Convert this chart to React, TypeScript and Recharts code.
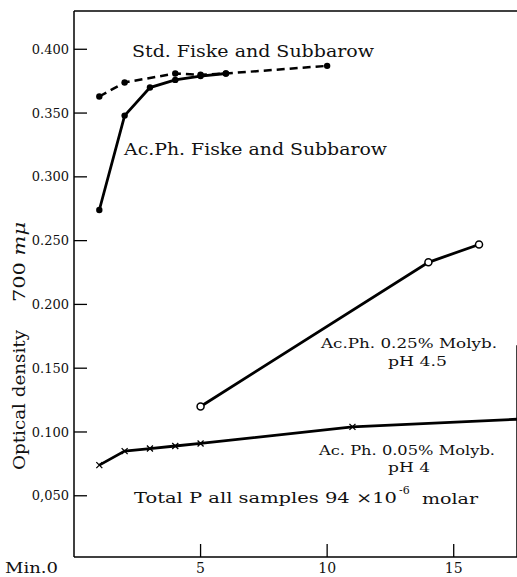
import React from 'react';
import { LineChart, XAxis, YAxis, Line, ReferenceLine } from 'recharts';

// minutes / optical density
const stdTimes = [1, 2, 4, 5, 6, 10];
const stdOD = [0.363, 0.374, 0.381, 0.380, 0.381, 0.387];

const fiskeTimes = [1, 2, 3, 4, 5, 6];
const fiskeOD = [0.274, 0.348, 0.370, 0.376, 0.379, 0.381];

const molyb25Times = [5, 14, 16];
const molyb25OD = [0.120, 0.233, 0.247];

const molyb05Times = [1, 2, 3, 4, 5, 11, 17.5];
const molyb05OD = [0.074, 0.085, 0.087, 0.089, 0.091, 0.104, 0.110];

const xTicks = [0, 5, 10, 15];
const yTicks = [0.05, 0.1, 0.15, 0.2, 0.25, 0.3, 0.35, 0.4];
const yTickLabels = ['0,050', '0.100', '0.150', '0.200', '0.250', '0.300', '0.350', '0.400'];

const toRows = (t: number[], v: number[]) => t.map((x, i) => ({ t: x, od: v[i] }));

const FONT = '"DejaVu Serif", serif';

const YTick = (props: any) => {
  const { x, y, payload } = props;
  const i = yTicks.indexOf(payload.value);
  return (
    <g>
      <line x1={x} y1={y} x2={x + 13} y2={y} stroke="#000" strokeWidth={1.3} />
      <text x={x - 5} y={y} dy="0.35em" textAnchor="end" fontSize={13} fontFamily={FONT} fill="#111">
        {i >= 0 ? yTickLabels[i] : ''}
      </text>
    </g>
  );
};

const XTick = (props: any) => {
  const { x, y, payload } = props;
  if (payload.value === 0) {
    return (
      <text
        x={x - 69}
        y={y + 16}
        fontSize={14}
        textLength={53}
        lengthAdjust="spacingAndGlyphs"
        fontFamily={FONT}
        fill="#111"
      >
        Min.0
      </text>
    );
  }
  return (
    <g>
      <line x1={x} y1={y} x2={x} y2={y - 13} stroke="#000" strokeWidth={1.3} />
      <text x={x} y={y + 16} textAnchor="middle" fontSize={14} fontFamily={FONT} fill="#111">
        {payload.value}
      </text>
    </g>
  );
};

const CrossDot = (props: any) => {
  const { cx, cy, index } = props;
  if (index === molyb05Times.length - 1 || cx == null) return <g key={`c${index}`} />;
  const s = 3;
  return (
    <path
      key={`c${index}`}
      d={`M${cx - s},${cy - s}L${cx + s},${cy + s}M${cx - s},${cy + s}L${cx + s},${cy - s}`}
      stroke="#000"
      strokeWidth={1.3}
    />
  );
};

const txt = { fontFamily: FONT, fill: '#111' } as const;

export default function App() {
  return (
    <div style={{ position: 'absolute', left: 0, top: 0, width: 517, height: 577, background: '#fff' }}>
      <LineChart width={517} height={577} margin={{ top: 11, right: 0, bottom: 0, left: 0 }}>
        <XAxis
          dataKey="t"
          type="number"
          domain={[0, 17.5]}
          ticks={xTicks}
          allowDataOverflow
          height={20}
          tickLine={false}
          tickSize={0}
          tickMargin={0}
          tick={<XTick />}
          axisLine={{ stroke: '#000', strokeWidth: 1.5 }}
        />
        <YAxis
          type="number"
          domain={[0.002, 0.43]}
          ticks={yTicks}
          allowDataOverflow
          width={74}
          tickLine={false}
          tickSize={0}
          tickMargin={0}
          tick={<YTick />}
          axisLine={{ stroke: '#000', strokeWidth: 1.5 }}
        />
        <ReferenceLine y={0.43} stroke="#000" strokeWidth={1.3} />
        <ReferenceLine
          segment={[{ x: 17.5, y: 0.002 }, { x: 17.5, y: 0.168 }]}
          stroke="#000"
          strokeWidth={1.5}
        />
        <Line
          data={toRows(stdTimes, stdOD)}
          dataKey="od"
          type="linear"
          stroke="#000"
          strokeWidth={2.5}
          strokeDasharray="8 5"
          dot={{ r: 3.2, fill: '#000', stroke: '#000', strokeWidth: 0 }}
          isAnimationActive={false}
        />
        <Line
          data={toRows(fiskeTimes, fiskeOD)}
          dataKey="od"
          type="linear"
          stroke="#000"
          strokeWidth={2.8}
          dot={{ r: 3.2, fill: '#000', stroke: '#000', strokeWidth: 0 }}
          isAnimationActive={false}
        />
        <Line
          data={toRows(molyb25Times, molyb25OD)}
          dataKey="od"
          type="linear"
          stroke="#000"
          strokeWidth={2.8}
          dot={{ r: 3.5, fill: '#fff', stroke: '#000', strokeWidth: 1.5, strokeDasharray: '' }}
          isAnimationActive={false}
        />
        <Line
          data={toRows(molyb05Times, molyb05OD)}
          dataKey="od"
          type="linear"
          stroke="#000"
          strokeWidth={2.8}
          dot={<CrossDot />}
          isAnimationActive={false}
        />
      </LineChart>
      <svg
        width={517}
        height={577}
        style={{ position: 'absolute', left: 0, top: 0, pointerEvents: 'none' }}
      >
        <text x={132} y={57} fontSize={16} textLength={242} lengthAdjust="spacingAndGlyphs" {...txt}>
          Std. Fiske and Subbarow
        </text>
        <text x={124} y={155} fontSize={16} textLength={263} lengthAdjust="spacingAndGlyphs" {...txt}>
          Ac.Ph. Fiske and Subbarow
        </text>
        <text x={321} y={348} fontSize={13.5} textLength={176} lengthAdjust="spacingAndGlyphs" {...txt}>
          Ac.Ph. 0.25% Molyb.
        </text>
        <text x={388} y={366} fontSize={13.5} textLength={59} lengthAdjust="spacingAndGlyphs" {...txt}>
          pH 4.5
        </text>
        <text x={319} y={455} fontSize={13.5} textLength={176} lengthAdjust="spacingAndGlyphs" {...txt}>
          Ac. Ph. 0.05% Molyb.
        </text>
        <text x={388} y={472} fontSize={13.5} textLength={42} lengthAdjust="spacingAndGlyphs" {...txt}>
          pH 4
        </text>
        <text x={134} y={503} fontSize={15} textLength={263} lengthAdjust="spacingAndGlyphs" {...txt}>
          Total P all samples  94 ×10
        </text>
        <text x={399} y={494} fontSize={11} {...txt}>
          -6
        </text>
        <text x={422} y={504} fontSize={15} textLength={56} lengthAdjust="spacingAndGlyphs" {...txt}>
          molar
        </text>
        <text
          x={25}
          y={470}
          fontSize={16}
          textLength={140}
          lengthAdjust="spacingAndGlyphs"
          transform="rotate(-90 25 470)"
          {...txt}
        >
          Optical density
        </text>
        <text
          x={25}
          y={302}
          fontSize={16}
          textLength={80}
          lengthAdjust="spacingAndGlyphs"
          transform="rotate(-90 25 302)"
          {...txt}
        >
          <tspan>700 </tspan>
          <tspan fontStyle="italic">mμ</tspan>
        </text>
      </svg>
    </div>
  );
}
